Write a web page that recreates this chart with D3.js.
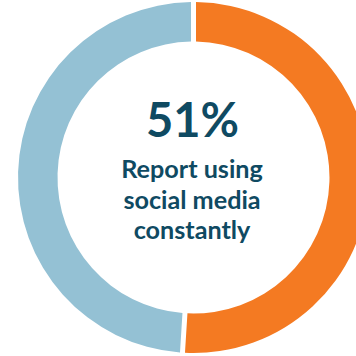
<!DOCTYPE html>
<html>
<head>
<meta charset="utf-8">
<script src="https://cdn.jsdelivr.net/npm/d3@7"></script>
<style>
  html, body { margin: 0; padding: 0; background: #ffffff; }
  svg { display: block; }
</style>
</head>
<body>
<svg id="chart" width="356" height="356"></svg>
<script>
// Share of respondents
const categories = ["Constantly", "Other"];
const values = [51, 49];
const colors = ["#F47A22", "#94C1D4"];
const headline = ["51%"];
const caption = ["Report using", "social media", "constantly"];

const width = 356, height = 356;
const cx = 193.5, cy = 177.5;
const outerR = 175.5, innerR = 136;

const svg = d3.select("#chart");
const g = svg.append("g").attr("transform", `translate(${cx},${cy})`);

const pie = d3.pie().sort(null).value(d => d.value);
const arc = d3.arc()
  .innerRadius(innerR)
  .outerRadius(outerR)
  .padRadius(outerR)
  .padAngle(5 / outerR);

const data = categories.map((c, i) => ({ name: c, value: values[i] }));

g.selectAll("path.slice")
  .data(pie(data))
  .join("path")
  .attr("class", "slice")
  .attr("d", arc)
  .attr("fill", (d, i) => colors[i]);

const textColor = "#0F4A62";
const font = "Lato, 'Open Sans', sans-serif";

g.append("text")
  .attr("x", -1)
  .attr("y", 137 - cy)
  .attr("text-anchor", "middle")
  .attr("font-family", font)
  .attr("font-weight", 700)
  .attr("font-size", 47)
  .attr("fill", textColor)
  .text(headline[0]);

const baselines = [178, 208.5, 239];
g.selectAll("text.caption")
  .data(caption)
  .join("text")
  .attr("class", "caption")
  .attr("x", -1.5)
  .attr("y", (d, i) => baselines[i] - cy)
  .attr("text-anchor", "middle")
  .attr("font-family", font)
  .attr("font-weight", 700)
  .attr("font-size", 25.2)
  .attr("fill", textColor)
  .text(d => d);
</script>
</body>
</html>
